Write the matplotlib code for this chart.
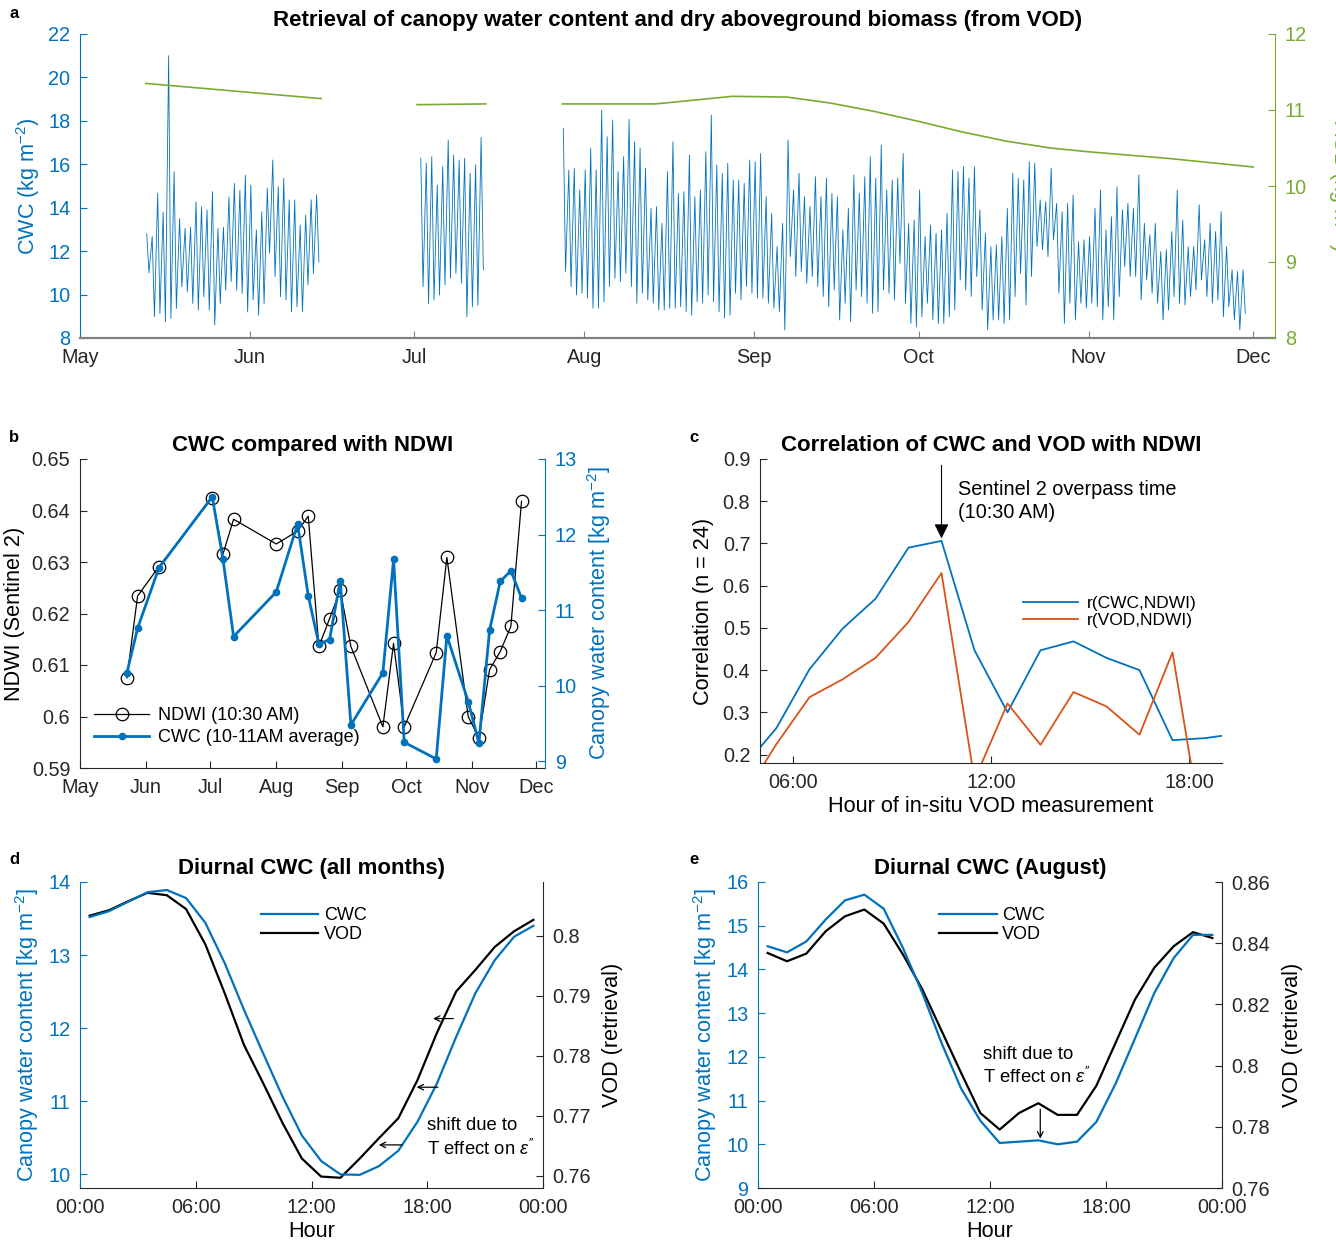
import numpy as np
import matplotlib
matplotlib.use('Agg')
import matplotlib.pyplot as plt
from matplotlib.ticker import FuncFormatter

plt.rcParams['font.family'] = ['Liberation Sans', 'DejaVu Sans']
plt.rcParams['mathtext.fontset'] = 'custom'
plt.rcParams['mathtext.rm'] = 'Liberation Sans'
plt.rcParams['mathtext.it'] = 'Liberation Sans:italic'

BLUE = '#0072BD'
ORANGE = '#D95319'
GREEN = '#77AC30'
DARK = '#262626'

# ---- panel a: hourly CWC, read as daily max / min per measuring period ----
MONTHS = ['May', 'Jun', 'Jul', 'Aug', 'Sep', 'Oct', 'Nov', 'Dec']
MONTH_DAYS = [0, 31, 61, 92, 123, 153, 184, 214]   # days since 1 May

seg_start = [12, 62, 88]
seg_peaks = [
    [12.8, 12.67, 14.67, 13.8, 21.0, 15.66, 13.5, 13.05, 13.1, 14.28, 14.05, 13.9,
     14.74, 13.05, 13.1, 14.5, 15.12, 14.8, 15.5, 15.05, 12.97, 13.82, 14.89, 16.2,
     14.97, 15.35, 14.36, 14.36, 13.2, 13.66, 14.36, 14.6],
    [16.28, 16.05, 16.35, 15.05, 15.9, 17.12, 16.43, 16.2, 16.28, 15.59, 15.97, 17.24],
    [17.66, 15.74, 15.82, 14.82, 15.74, 16.74, 15.74, 18.5, 17.27, 18.04, 15.66, 16.35,
     18.07, 17.04, 16.74, 15.82, 13.97, 14.05, 13.28, 15.66, 17.04, 14.66, 14.74, 16.43,
     14.51, 14.82, 16.58, 18.27, 15.97, 15.59, 16.05, 15.28, 15.28,
     15.12, 16.2, 16.12, 16.5, 14.51, 13.74, 12.21, 13.28, 17.12, 14.82, 15.59, 14.51,
     14.05, 15.43, 14.51, 15.36, 14.66, 14.51, 12.98, 13.97, 15.51, 14.66, 15.43, 16.35,
     15.36, 16.89, 14.82, 15.28, 15.36, 16.5, 13.28, 13.44, 14.82, 12.67, 13.2, 12.82,
     12.98, 13.74, 15.74, 15.66, 15.89, 15.36, 15.89, 13.9, 12.82, 12.21, 12.29, 12.67,
     13.97, 15.59, 15.36, 15.28, 16.12, 16.05, 14.36, 14.28, 15.82, 14.2, 13.82, 14.2,
     14.59, 12.44, 12.52, 12.67, 13.97, 14.82, 12.98, 13.59, 14.97, 13.9, 14.2, 13.97,
     15.51, 13.28, 12.75, 13.28, 11.98, 12.06, 12.9, 14.82, 13.44, 12.21, 12.21, 14.13,
     12.52, 13.28, 12.9, 13.82, 12.21, 11.14, 11.06, 11.14],
]
seg_troughs = [
    [11.0, 8.98, 9.13, 8.75, 8.9, 9.36, 10.36, 10.13, 9.59, 9.28, 9.9, 9.28, 8.6, 9.59,
     10.2, 10.6, 10.2, 10.05, 9.2, 9.75, 9.05, 9.59, 11.9, 10.83, 9.9, 9.75, 9.2, 9.44,
     9.2, 10.44, 10.97, 11.5],
    [10.36, 9.59, 9.75, 9.98, 10.44, 10.75, 10.97, 10.52, 8.98, 9.44, 9.51, 11.13],
    [11.06, 10.37, 9.98, 10.06, 9.83, 9.37, 9.37, 9.67, 10.37, 10.75, 10.6, 10.98, 10.37,
     9.6, 10.06, 9.75, 9.6, 9.29, 9.29, 9.37, 9.37, 9.44, 9.21, 9.06, 9.67, 9.6, 9.98,
     9.67, 9.21, 8.91, 9.06, 10.06, 9.75,
     10.37, 10.06, 9.83, 9.83, 9.6, 9.37, 9.21, 8.37, 11.75, 10.83, 11.06, 10.52, 10.83,
     10.37, 9.91, 9.44, 10.21, 8.83, 9.6, 8.75, 10.21, 9.91, 9.6, 9.14, 9.21, 10.21,
     10.06, 9.75, 11.44, 9.6, 8.67, 8.52, 8.98, 9.6, 8.83, 8.67,
     8.67, 8.98, 9.29, 10.67, 10.21, 9.91, 10.83, 9.29, 8.37, 8.83, 8.83, 8.67, 8.83,
     9.91, 10.98, 9.52, 10.83, 12.21, 12.06, 11.75, 12.52, 10.06, 8.67, 9.6, 8.83, 9.6,
     9.37, 9.6, 9.44, 8.83, 9.44, 8.83, 9.91, 11.29, 10.83, 10.83,
     9.75, 10.67, 10.06, 9.6, 8.83, 9.29, 9.91, 9.6, 9.52, 9.91, 10.21, 10.67, 9.91,
     9.6, 9.75, 8.98, 9.44, 8.83, 8.37, 9.14],
]

bio_days = [[12, 28, 44], [61.5, 74], [88, 105, 112, 119, 129, 137, 145, 153, 161, 169,
                                      177, 184, 199, 214]]
bio_vals = [[11.35, 11.25, 11.15], [11.07, 11.08],
            [11.08, 11.08, 11.13, 11.18, 11.17, 11.09, 10.98, 10.85, 10.71, 10.59, 10.5,
             10.45, 10.36, 10.25]]

# ---- panel b ----
b_days = [22, 27, 37, 62, 67, 72, 92, 102, 107, 112, 117, 122, 127, 142, 147, 152,
          167, 172, 182, 187, 192, 197, 202, 207]
ndwi = [0.6075, 0.6234, 0.6291, 0.6425, 0.6315, 0.6383, 0.6335, 0.6360, 0.6389, 0.6136,
        0.6190, 0.6245, 0.6136, 0.5980, 0.6142, 0.5980, 0.6124, 0.6309, 0.6000, 0.5958,
        0.6091, 0.6126, 0.6175, 0.6418]
cwc_10_11 = [10.17, 10.76, 11.56, 12.50, 11.68, 10.65, 11.24, 12.14, 11.19, 10.55, 10.61,
             11.39, 9.48, 10.17, 11.67, 9.25, 9.03, 10.66, 9.79, 9.24, 10.73, 11.38,
             11.52, 11.16]

# ---- panel c ----
c_hours = [4.5, 5.5, 6.5, 7.5, 8.5, 9.5, 10.5, 11.5, 12.5, 13.5, 14.5, 15.5, 16.5,
           17.5, 18.5, 19.5]
r_cwc = [0.17, 0.263, 0.402, 0.498, 0.569, 0.690, 0.706, 0.447, 0.300, 0.447, 0.468,
         0.429, 0.400, 0.234, 0.239, 0.25]
r_vod = [0.10, 0.225, 0.336, 0.378, 0.429, 0.514, 0.630, 0.14, 0.321, 0.223, 0.348,
         0.314, 0.247, 0.442, -0.03, 0.10]

# ---- panels d / e ----
hours = [h + 0.5 for h in range(24)]
d_cwc = [13.52, 13.60, 13.73, 13.86, 13.89, 13.78, 13.44, 12.89, 12.25, 11.65, 11.06,
         10.53, 10.18, 9.996, 9.99, 10.11, 10.32, 10.72, 11.24, 11.88, 12.48, 12.93,
         13.25, 13.40]
d_vod = [0.8033, 0.8042, 0.8057, 0.8071, 0.8067, 0.8044, 0.7985, 0.7904, 0.7818, 0.7754,
         0.7688, 0.7629, 0.7599, 0.7597, 0.7629, 0.7663, 0.7696, 0.7760, 0.7838, 0.7907,
         0.7943, 0.7981, 0.8007, 0.8026]
e_cwc = [14.53, 14.39, 14.64, 15.14, 15.58, 15.71, 15.39, 14.49, 13.46, 12.31, 11.28,
         10.54, 10.03, 10.06, 10.09, 10.00, 10.06, 10.51, 11.39, 12.42, 13.46, 14.26,
         14.79, 14.79]
e_vod = [0.8368, 0.8341, 0.8366, 0.8439, 0.8488, 0.8510, 0.8464, 0.8363, 0.8249, 0.8113,
         0.7977, 0.7845, 0.7791, 0.7845, 0.7877, 0.7839, 0.7839, 0.7934, 0.8075, 0.8216,
         0.8320, 0.8390, 0.8436, 0.8417]
HOUR_TICKS = [0, 6, 12, 18, 24]
HOUR_LABELS = ['00:00', '06:00', '12:00', '18:00', '00:00']

TS = 14.3   # tick label size
LS = 15.6   # axis label size
TT = 16     # title size
gfmt = FuncFormatter(lambda v, p: '%g' % round(v, 4))


def style(ax, left_color=DARK, right=False):
    ax.spines['top'].set_visible(False)
    ax.spines['right'].set_visible(right)
    ax.tick_params(direction='in', length=5, width=0.8, labelsize=TS, colors=DARK, pad=7)
    ax.tick_params(axis='y', colors=left_color)
    ax.spines['left'].set_color(left_color)
    ax.spines['bottom'].set_color(DARK)


def style_right(ax2, color):
    for k in ['top', 'left', 'bottom']:
        ax2.spines[k].set_visible(False)
    ax2.spines['right'].set_color(color)
    ax2.tick_params(direction='in', length=5, width=0.8, labelsize=TS, colors=color, pad=7)


W, H = 1336, 1248
fig = plt.figure(figsize=(W / 100, H / 100), dpi=100)


def box(l, t, r, b):
    return [l / W, 1 - b / H, (r - l) / W, (b - t) / H]


# ================= a =================
axa = fig.add_axes(box(80, 34, 1275, 338))
for s, pk, tr in zip(seg_start, seg_peaks, seg_troughs):
    d = s + np.arange(len(pk))
    t = np.column_stack([d + 0.17, d + 0.58]).ravel()
    v = np.column_stack([pk, tr]).ravel()
    axa.plot(t, v, color=BLUE, lw=0.6)
axa.set_xlim(0, 218)
axa.set_ylim(8, 22)
axa.set_yticks(range(8, 23, 2))
axa.set_xticks(MONTH_DAYS)
axa.set_xticklabels(MONTHS)
style(axa, BLUE)
axa.spines['bottom'].set_color('#808080')
axa.spines['bottom'].set_linewidth(1.6)
axa.tick_params(axis='x', colors='#808080', labelcolor=DARK)
axa.set_ylabel('CWC (kg m$^{-2}$)', color=BLUE, fontsize=LS, labelpad=4)
axa.set_title('Retrieval of canopy water content and dry aboveground biomass (from VOD)',
              fontsize=TT, weight='bold', pad=6)
axa2 = axa.twinx()
for dd, vv in zip(bio_days, bio_vals):
    axa2.plot(dd, vv, color=GREEN, lw=1.2)
axa2.set_ylim(8, 12)
axa2.set_yticks(range(8, 13))
style_right(axa2, GREEN)
# right-hand label sits at the figure edge, mostly cut off as in the original
fig.text(1333 / W, 1 - 186 / H, 'AGB (kg m$^{-2}$)', color=GREEN, fontsize=LS,
         rotation=-90, rotation_mode='anchor', ha='center', va='baseline')

# ================= b =================
axb = fig.add_axes(box(80, 459, 545, 768))
axb.plot(b_days, ndwi, color='black', lw=0.9, marker='o', ms=9, mfc='none', mew=0.9,
         label='NDWI (10:30 AM)')
axb.set_xlim(0, 218)
axb.set_ylim(0.59, 0.65)
axb.set_yticks(np.arange(0.59, 0.6501, 0.01))
axb.yaxis.set_major_formatter(gfmt)
axb.set_xticks(MONTH_DAYS)
axb.set_xticklabels(MONTHS)
style(axb, DARK)
axb.set_ylabel('NDWI (Sentinel 2)', fontsize=LS, color='black', labelpad=5)
axb.set_title('CWC compared with NDWI', fontsize=TT, weight='bold', pad=6)
axb2 = axb.twinx()
axb2.plot(b_days, cwc_10_11, color=BLUE, lw=2, marker='o', ms=4.5,
          label='CWC (10-11AM average)')
axb2.set_ylim(8.91, 13)
axb2.set_yticks(range(9, 14))
style_right(axb2, BLUE)
axb2.set_ylabel('Canopy water content [kg m$^{-2}$]', color=BLUE, fontsize=LS,
                labelpad=6)
hs = axb.get_lines() + axb2.get_lines()
axb2.legend(hs, [h.get_label() for h in hs], loc='lower left', bbox_to_anchor=(0.0, 0.025),
            frameon=False, fontsize=13, handlelength=3, borderaxespad=0.4,
            labelspacing=0.25, handletextpad=0.5)

# ================= c =================
axc = fig.add_axes(box(760, 459, 1222, 763))
axc.plot(c_hours, r_cwc, color=BLUE, lw=1.3, label='r(CWC,NDWI)')
axc.plot(c_hours, r_vod, color=ORANGE, lw=1.3, label='r(VOD,NDWI)')
axc.set_xlim(5, 19)
axc.set_ylim(0.18, 0.9)
axc.set_yticks(np.arange(0.2, 0.901, 0.1))
axc.yaxis.set_major_formatter(gfmt)
axc.set_xticks([6, 12, 18])
axc.set_xticklabels(['06:00', '12:00', '18:00'])
style(axc, DARK)
axc.set_xlabel('Hour of in-situ VOD measurement', fontsize=LS, labelpad=3)
axc.set_ylabel('Correlation (n = 24)', fontsize=LS, labelpad=6)
axc.set_title('Correlation of CWC and VOD with NDWI', fontsize=TT, weight='bold', pad=6)
axc.annotate('', xy=(10.5, 0.712), xytext=(10.5, 0.885),
             arrowprops=dict(arrowstyle='-|>', color='black', lw=0.8,
                             mutation_scale=22, shrinkA=0, shrinkB=0))
axc.text(11.0, 0.80, 'Sentinel 2 overpass time\n(10:30 AM)', fontsize=14.3,
         ha='left', va='center', linespacing=1.25)
axc.legend(loc='upper left', bbox_to_anchor=(0.535, 0.6), frameon=False, fontsize=12.5,
           handlelength=3.2, labelspacing=0.1, handletextpad=0.5)


# ================= d / e =================
def diurnal(box_px, cwc, vod, cwc_lim, cwc_ticks, vod_lim, vod_ticks, title):
    ax = fig.add_axes(box(*box_px))
    ax.plot(hours, cwc, color=BLUE, lw=1.6, label='CWC', zorder=3)
    ax.set_xlim(0, 24)
    ax.set_ylim(*cwc_lim)
    ax.set_yticks(cwc_ticks)
    ax.set_xticks(HOUR_TICKS)
    ax.set_xticklabels(HOUR_LABELS)
    style(ax, BLUE)
    ax.set_ylabel('Canopy water content [kg m$^{-2}$]', color=BLUE, fontsize=LS,
                  labelpad=5)
    ax.set_xlabel('Hour', fontsize=LS, labelpad=3)
    ax.set_title(title, fontsize=TT, weight='bold', pad=6)
    ax2 = ax.twinx()
    ax2.plot(hours, vod, color='black', lw=1.6, label='VOD')
    ax2.set_ylim(*vod_lim)
    ax2.set_yticks(vod_ticks)
    ax2.yaxis.set_major_formatter(gfmt)
    style_right(ax2, DARK)
    ax2.set_ylabel('VOD (retrieval)', fontsize=LS, labelpad=8)
    ax.set_zorder(ax2.get_zorder() + 1)
    ax.patch.set_visible(False)
    hs = ax.get_lines() + ax2.get_lines()
    ax.legend(hs, ['CWC', 'VOD'], loc='upper left', bbox_to_anchor=(0.355, 0.97),
              frameon=False, fontsize=13, handlelength=3.2, labelspacing=0.1,
              handletextpad=0.3)
    return ax, ax2


axd, axd2 = diurnal((80, 882, 543, 1188), d_cwc, d_vod, (9.81, 14), range(10, 15),
                    (0.758, 0.8089), np.arange(0.76, 0.8001, 0.01),
                    'Diurnal CWC (all months)')
for tail, head, yy in [(19.35, 18.3, 12.13), (18.55, 17.45, 11.19), (16.69, 15.49, 10.4)]:
    axd.annotate('', xy=(head, yy), xytext=(tail, yy),
                 arrowprops=dict(arrowstyle='->', color='black', lw=0.9, shrinkA=0,
                                 shrinkB=0, mutation_scale=10))
axd.text(18.0, 10.5, "shift due to\nT effect on $\\epsilon''$", fontsize=13.3,
         ha='left', va='center', linespacing=1.3)

axe, axe2 = diurnal((758, 882, 1222, 1188), e_cwc, e_vod, (9, 16), range(9, 17),
                    (0.76, 0.86), np.arange(0.76, 0.8601, 0.02),
                    'Diurnal CWC (August)')
axe.annotate('', xy=(14.6, 10.13), xytext=(14.6, 10.8),
             arrowprops=dict(arrowstyle='->', color='black', lw=0.9, shrinkA=0,
                             shrinkB=0, mutation_scale=10))
axe.text(11.65, 11.78, "shift due to\nT effect on $\\epsilon''$", fontsize=13.3,
         ha='left', va='center', linespacing=1.3)

for lab, x, y in [('a', 14, 14), ('b', 14, 437), ('c', 694, 437), ('d', 14, 860),
                  ('e', 694, 860)]:
    fig.text(x / W, 1 - y / H, lab, fontsize=12, weight='bold', va='center', ha='center')

fig.savefig('out.png', dpi=100)
